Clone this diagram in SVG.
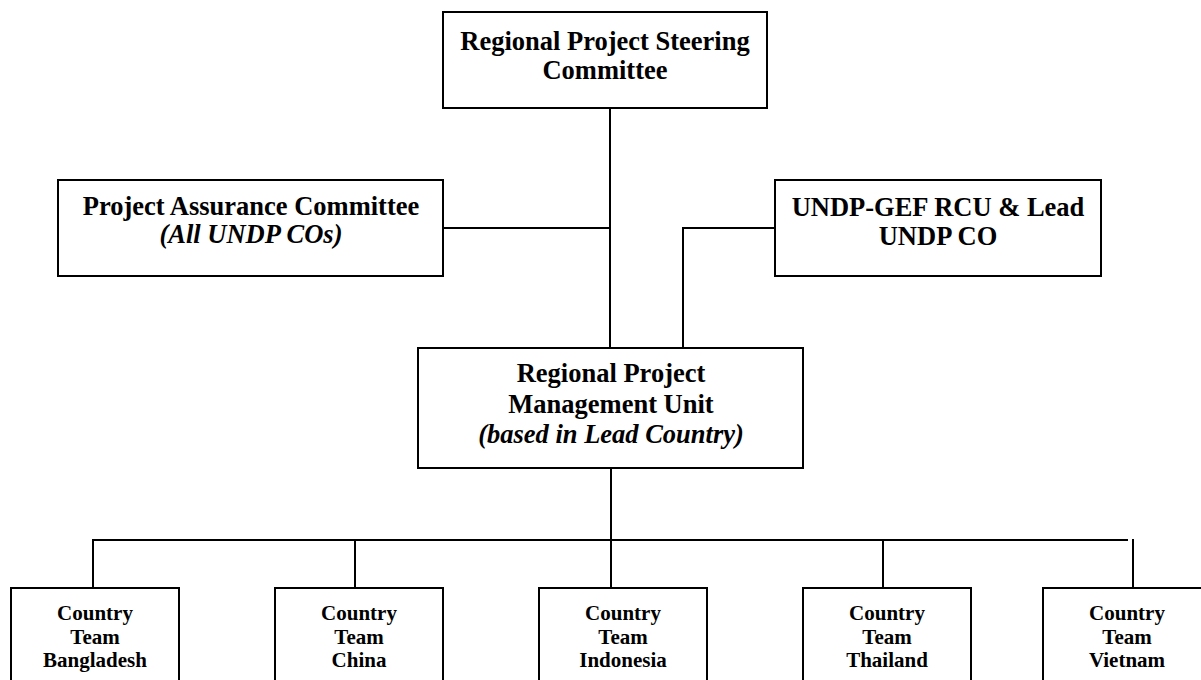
<svg xmlns="http://www.w3.org/2000/svg" width="1201" height="680" viewBox="0 0 1201 680">
<style>
.box{fill:#fff;stroke:#000;stroke-width:2}
.t{font-family:"Liberation Serif","Times New Roman",serif;font-weight:bold;fill:#000;text-anchor:middle}
.big{font-size:26.5px}
.sm{font-size:21px}
.it{font-style:italic}
.c{fill:none;stroke:#000;stroke-width:2}
</style>
<g id="connectors">
<line class="c" x1="610" y1="108" x2="610" y2="348"/>
<line class="c" x1="443" y1="228" x2="610" y2="228"/>
<polyline class="c" points="775,228 683,228 683,348"/>
<line class="c" x1="611" y1="468" x2="611" y2="588"/>
<line class="c" x1="93" y1="540" x2="1128" y2="540"/>
<line class="c" x1="93" y1="539" x2="93" y2="588"/>
<line class="c" x1="355" y1="540" x2="355" y2="588"/>
<line class="c" x1="883" y1="540" x2="883" y2="588"/>
<line class="c" x1="1133" y1="539" x2="1133" y2="588"/>
</g>
<g id="steering">
<rect class="box" x="443" y="12" width="324" height="96"/>
<text class="t big" x="605" y="50">Regional Project Steering</text>
<text class="t big" x="605" y="79">Committee</text>
</g>
<g id="assurance">
<rect class="box" x="58" y="180" width="385" height="96"/>
<text class="t big" x="251" y="215">Project Assurance Committee</text>
<text class="t big it" x="251" y="243">(All UNDP COs)</text>
</g>
<g id="rcu">
<rect class="box" x="775" y="180" width="326" height="96"/>
<text class="t big" x="938" y="216">UNDP-GEF RCU &amp; Lead</text>
<text class="t big" x="938" y="245">UNDP CO</text>
</g>
<g id="rpmu">
<rect class="box" x="418" y="348" width="385" height="120"/>
<text class="t big" x="611" y="382">Regional Project</text>
<text class="t big" x="611" y="413">Management Unit</text>
<text class="t big it" x="611" y="443">(based in Lead Country)</text>
</g>
<g id="ct-bangladesh">
<rect class="box" x="11" y="588" width="168" height="110"/>
<text class="t sm" x="95" y="620">Country</text>
<text class="t sm" x="95" y="643.5">Team</text>
<text class="t sm" x="95" y="667">Bangladesh</text>
</g>
<g id="ct-china">
<rect class="box" x="275" y="588" width="168" height="110"/>
<text class="t sm" x="359" y="620">Country</text>
<text class="t sm" x="359" y="643.5">Team</text>
<text class="t sm" x="359" y="667">China</text>
</g>
<g id="ct-indonesia">
<rect class="box" x="539" y="588" width="168" height="110"/>
<text class="t sm" x="623" y="620">Country</text>
<text class="t sm" x="623" y="643.5">Team</text>
<text class="t sm" x="623" y="667">Indonesia</text>
</g>
<g id="ct-thailand">
<rect class="box" x="803" y="588" width="168" height="110"/>
<text class="t sm" x="887" y="620">Country</text>
<text class="t sm" x="887" y="643.5">Team</text>
<text class="t sm" x="887" y="667">Thailand</text>
</g>
<g id="ct-vietnam">
<rect class="box" x="1043" y="588" width="168" height="110"/>
<text class="t sm" x="1127" y="620">Country</text>
<text class="t sm" x="1127" y="643.5">Team</text>
<text class="t sm" x="1127" y="667">Vietnam</text>
</g>
</svg>
